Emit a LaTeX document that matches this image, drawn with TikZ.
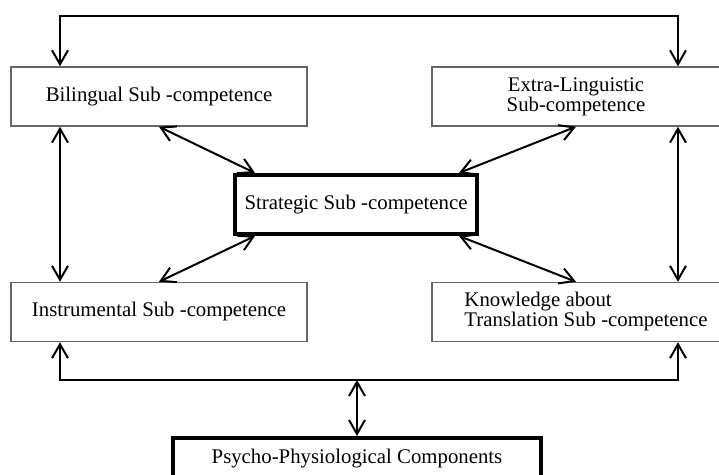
\documentclass[tikz,border=0pt]{standalone}
\usepackage{fontspec}
\setmainfont{Liberation Serif}
\usetikzlibrary{arrows.meta, calc}

\begin{document}
\begin{tikzpicture}[x=0.5pt, y=-0.5pt, >={Straight Barb[length=7pt,width=8pt]},
	box/.style={draw=black!60, line width=0.7pt, minimum height=29.5pt, inner sep=0pt, font=\fontsize{10.4}{10}\selectfont},
	bold box/.style={box, draw=black, line width=2pt},
	link/.style={<->, line width=1pt}]
	\clip (0,0) rectangle (719,475);
	\node[box, minimum width=148pt] (bil) at (159,96.5) {Bilingual Sub -competence};
	\node[box, minimum width=144pt, align=center] (ext) at (576,96.5) {Extra-Linguistic\\Sub-competence};
	\node[bold box, minimum width=121pt] (str) at (356,204.5) {Strategic Sub -competence};
	\node[box, minimum width=148pt] (ins) at (159,312) {Instrumental Sub -competence};
	\node[box, minimum width=144pt, align=left] (kno) at (576,312) {\hspace*{10pt}Knowledge about\\\hspace*{10pt}Translation Sub -competence};
	\node[bold box, minimum width=184pt, minimum height=21pt] (psy) at (357,459) {Psycho-Physiological Components};
	\coordinate (lt) at (60,16);
	\coordinate (rt) at (678,16);
	\coordinate (lb) at (60,380);
	\coordinate (rb) at (678,380);
	\draw[link] (bil.north -| lt) -- (lt) -- (rt) -- (ext.north -| rt);
	\draw[link] (bil.south -| lt) -- (ins.north -| lt);
	\draw[link] (ext.south -| rt) -- (kno.north -| rt);
	\draw[link] (ins.south -| lt) -- (lb) -- (rb) -- (kno.south -| rb);
	\draw[link] (psy.north |- lb) -- (psy.north);
	\draw[link] (bil.south) -- ($(str.north west)+(22,0)$);
	\draw[link] (ext.south) -- ($(str.north east)+(-20,0)$);
	\draw[link] (ins.north) -- ($(str.south west)+(22,0)$);
	\draw[link] (kno.north) -- ($(str.south east)+(-20,0)$);
\end{tikzpicture}
\end{document}
